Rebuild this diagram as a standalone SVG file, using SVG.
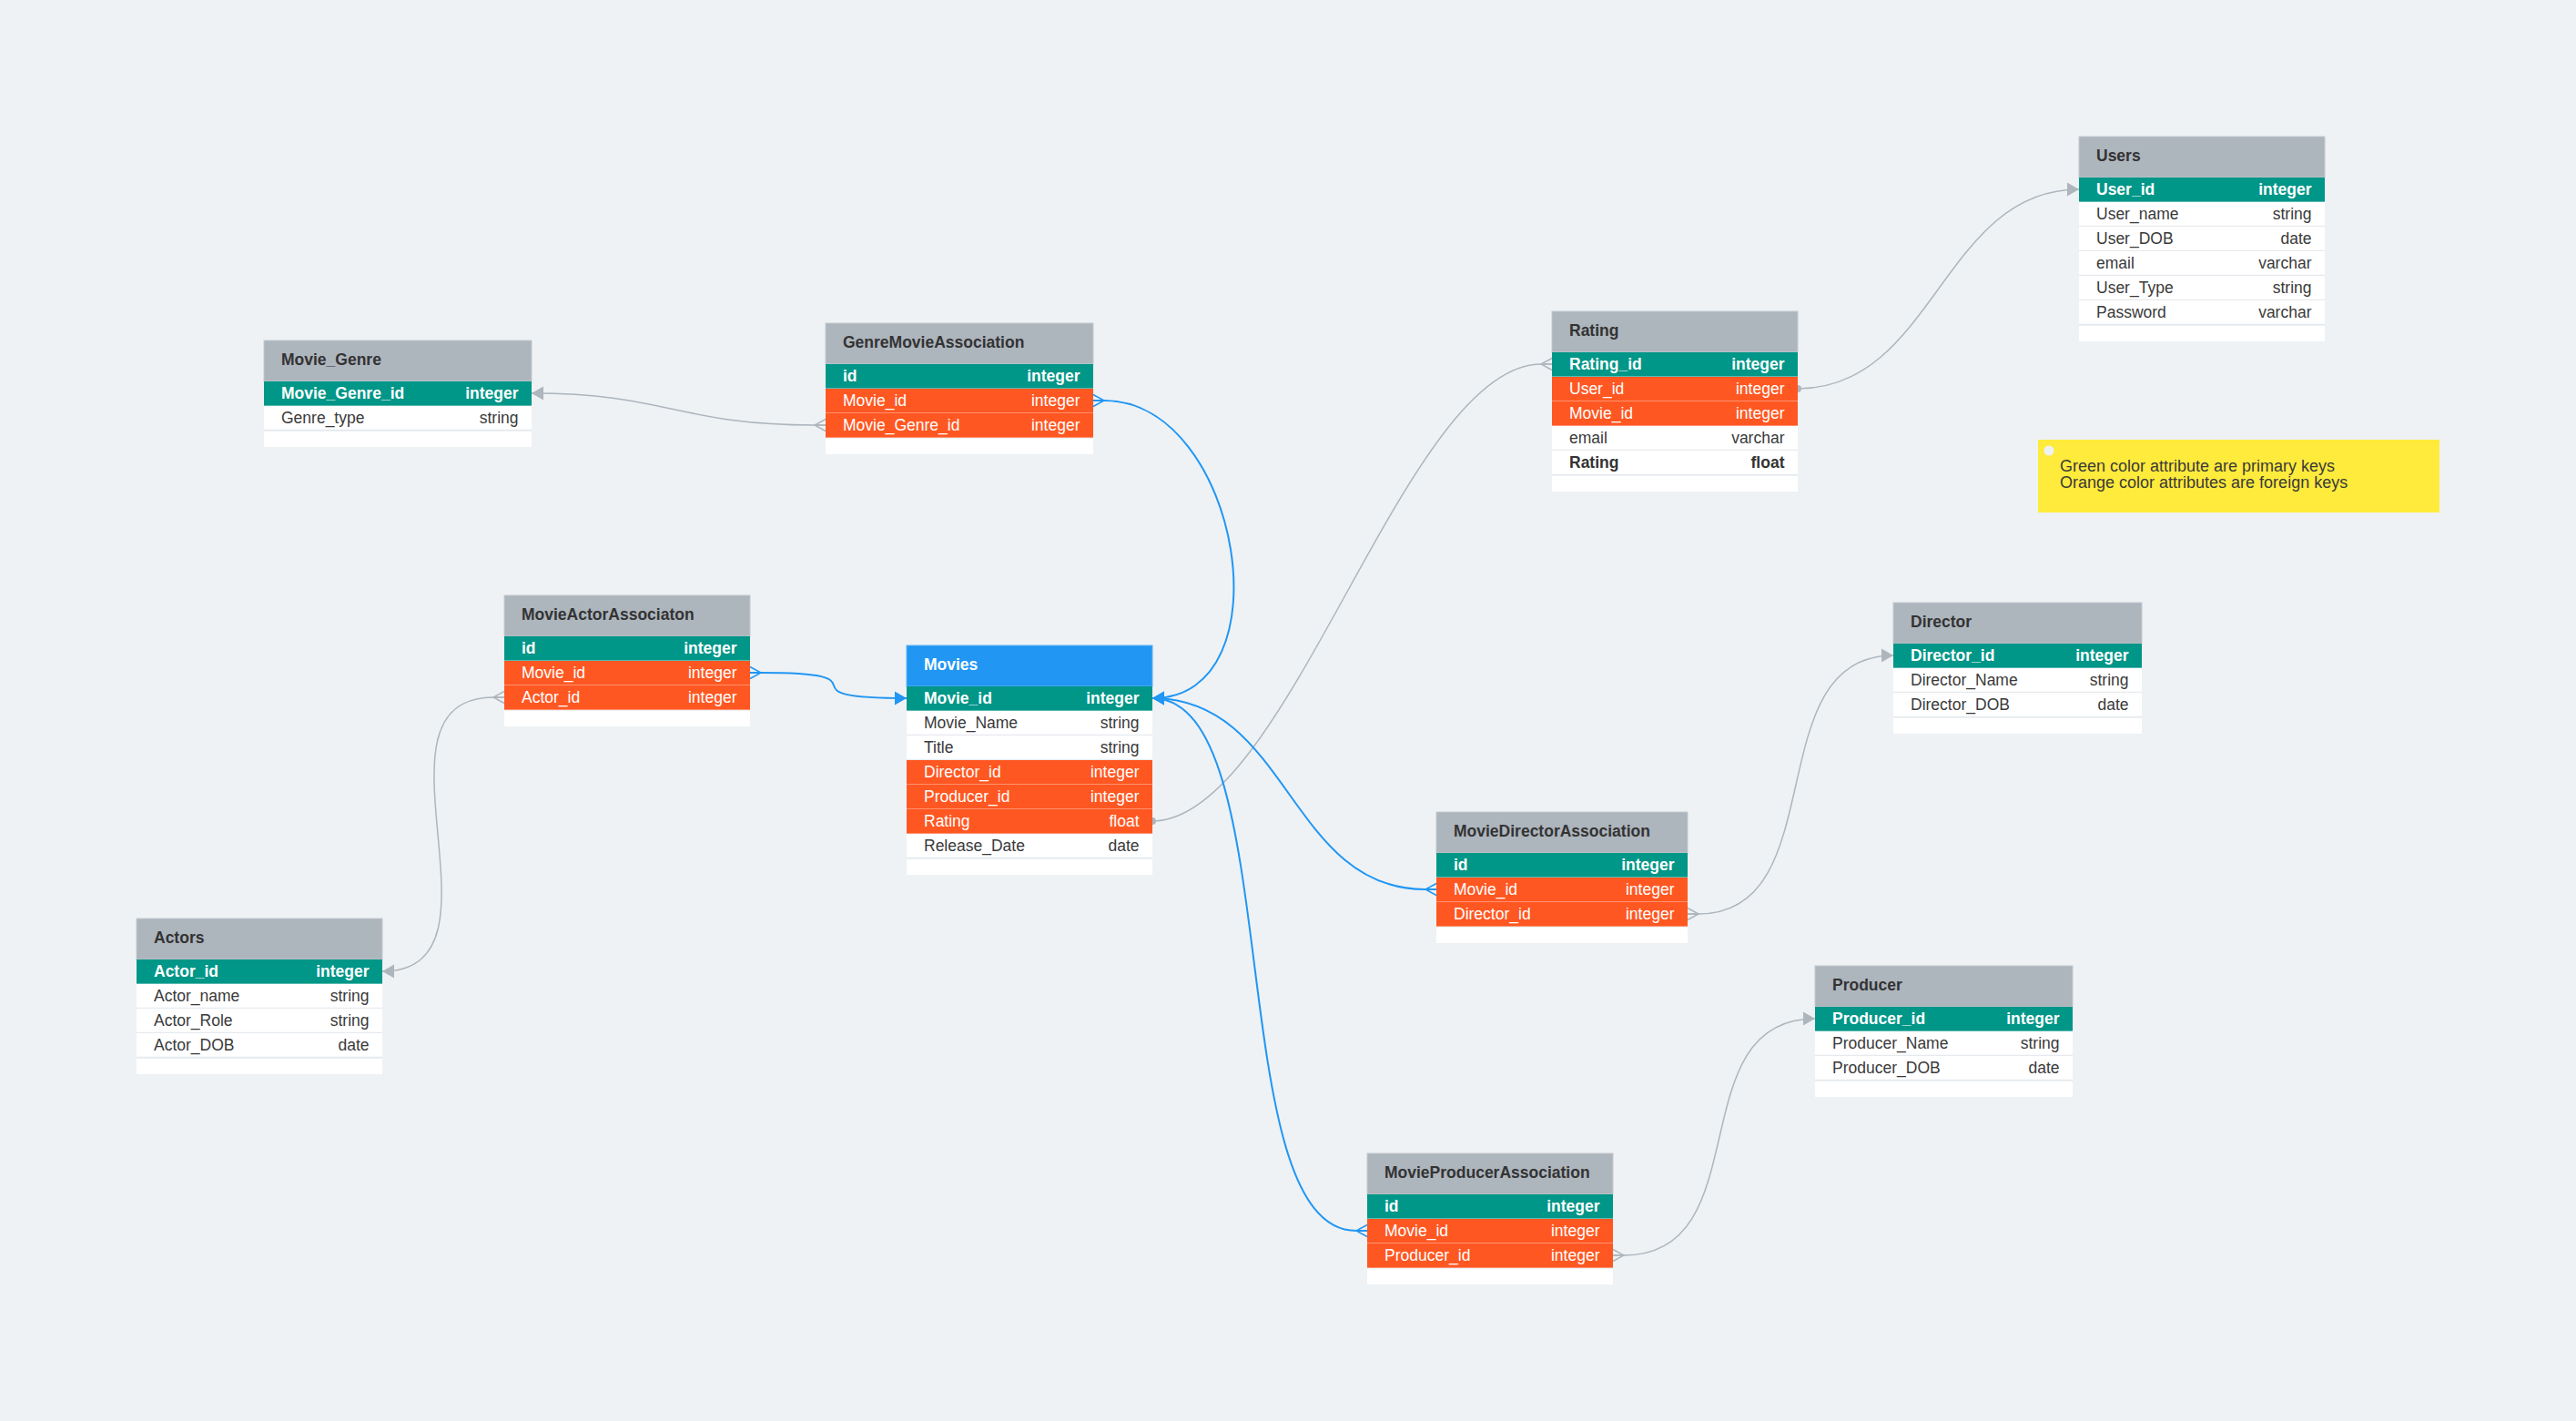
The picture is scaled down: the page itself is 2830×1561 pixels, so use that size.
<svg xmlns="http://www.w3.org/2000/svg" width="2830" height="1561" viewBox="0 0 2830 1561">
<defs>
<style>
text{font-family:"Liberation Sans",Arial,sans-serif;font-size:17.5px}
.hd{fill:#adb5bd;stroke:#c3c9cf;stroke-width:1}
.hdb{fill:#2196f3;stroke:#5fb3f5;stroke-width:1}
.ht{font-weight:bold;fill:#333}
.htw{font-weight:bold;fill:#fff}
.pk{fill:#009688}
.fk{fill:#ff5722}
.nr{fill:#fff}
.ft{fill:#fff}
.sc{stroke:#fff;stroke-opacity:.35;stroke-width:1}
.sw{stroke:#e6eaee;stroke-width:1.5}
.w{fill:#fff}
.wb{fill:#fff;font-weight:bold}
.d{fill:#3a3a3a}
.db{fill:#333;font-weight:bold}
.e{text-anchor:end}
.cg{fill:none;stroke:#adb5bd;stroke-width:1.5}
.cb{fill:none;stroke:#2196f3;stroke-width:2}
.note{font-size:18px;fill:#3a3a3a}
</style>
<marker id="arG" markerUnits="userSpaceOnUse" viewBox="-14 -8 15 16" markerWidth="15" markerHeight="16" refX="0" refY="0" orient="auto" overflow="visible"><path d="M0,0 L-13,-7.5 L-13,7.5 Z" fill="#adb5bd"/></marker>
<marker id="arB" markerUnits="userSpaceOnUse" viewBox="-14 -8 15 16" markerWidth="15" markerHeight="16" refX="0" refY="0" orient="auto" overflow="visible"><path d="M0,0 L-13,-7.5 L-13,7.5 Z" fill="#2196f3"/></marker>
<marker id="cfG" markerUnits="userSpaceOnUse" viewBox="-1 -8 14 16" markerWidth="14" markerHeight="16" refX="0" refY="0" orient="auto" overflow="visible"><path d="M0,-6.5 L12,0 L0,6.5 M0,0 L12,0" fill="none" stroke="#adb5bd" stroke-width="1.5"/></marker>
<marker id="cfB" markerUnits="userSpaceOnUse" viewBox="-1 -8 14 16" markerWidth="14" markerHeight="16" refX="0" refY="0" orient="auto" overflow="visible"><path d="M0,-6.5 L12,0 L0,6.5 M0,0 L12,0" fill="none" stroke="#2196f3" stroke-width="1.5"/></marker>
<marker id="dotG" markerUnits="userSpaceOnUse" viewBox="-5 -5 10 10" markerWidth="10" markerHeight="10" refX="0" refY="0" overflow="visible"><circle cx="0" cy="0" r="4" fill="#adb5bd"/></marker>
</defs>
<rect x="0" y="0" width="2830" height="1561" fill="#eef2f5"/>

<g id="connectors">
<path class="cg" d="M907 467 L895 467 C745 467 734 432 584 432" marker-start="url(#cfG)" marker-end="url(#arG)"/>
<path class="cb" d="M1201 440 L1213 440 C1363 440 1416 767 1266 767" marker-start="url(#cfB)" marker-end="url(#arB)"/>
<path class="cb" d="M824 739 L836 739 C986 739 846 767 996 767" marker-start="url(#cfB)" marker-end="url(#arB)"/>
<path class="cg" d="M554 766 L542 766 C392 766 570 1067 420 1067" marker-start="url(#cfG)" marker-end="url(#arG)"/>
<path class="cg" d="M1705 400 L1693 400 C1543 400 1416 902 1266 902" marker-start="url(#cfG)" marker-end="url(#dotG)"/>
<path class="cg" d="M1975 427 C2125 427 2134 208 2284 208" marker-start="url(#dotG)" marker-end="url(#arG)"/>
<path class="cb" d="M1578 977 L1566 977 C1416 977 1416 767 1266 767" marker-start="url(#cfB)" marker-end="url(#arB)"/>
<path class="cb" d="M1502 1352 L1490 1352 C1340 1352 1416 767 1266 767" marker-start="url(#cfB)" marker-end="url(#arB)"/>
<path class="cg" d="M1854 1004 L1866 1004 C2016 1004 1930 720 2080 720" marker-start="url(#cfG)" marker-end="url(#arG)"/>
<path class="cg" d="M1772 1379 L1784 1379 C1934 1379 1844 1119 1994 1119" marker-start="url(#cfG)" marker-end="url(#arG)"/>
</g>

<g id="movie-genre">
<rect class="hd" x="290" y="374" width="294" height="45"/>
<text class="ht" x="309" y="401">Movie_Genre</text>
<rect class="pk" x="290" y="419" width="294" height="27"/><line class="sc" x1="290" y1="445.5" x2="584" y2="445.5"/>
<text class="wb" x="309" y="437.5">Movie_Genre_id</text><text class="wb e" x="569.5" y="437.5">integer</text>
<rect class="nr" x="290" y="446" width="294" height="27"/><line class="sw" x1="290" y1="472.5" x2="584" y2="472.5"/>
<text class="d" x="309" y="464.5">Genre_type</text><text class="d e" x="569.5" y="464.5">string</text>
<rect class="ft" x="290" y="474" width="294" height="17"/>
</g>

<g id="genre-movie-association">
<rect class="hd" x="907" y="355" width="294" height="45"/>
<text class="ht" x="926" y="382">GenreMovieAssociation</text>
<rect class="pk" x="907" y="400" width="294" height="27"/><line class="sc" x1="907" y1="426.5" x2="1201" y2="426.5"/>
<text class="wb" x="926" y="418.5">id</text><text class="wb e" x="1186.5" y="418.5">integer</text>
<rect class="fk" x="907" y="427" width="294" height="27"/><line class="sc" x1="907" y1="453.5" x2="1201" y2="453.5"/>
<text class="w" x="926" y="445.5">Movie_id</text><text class="w e" x="1186.5" y="445.5">integer</text>
<rect class="fk" x="907" y="454" width="294" height="27"/><line class="sc" x1="907" y1="480.5" x2="1201" y2="480.5"/>
<text class="w" x="926" y="472.5">Movie_Genre_id</text><text class="w e" x="1186.5" y="472.5">integer</text>
<rect class="ft" x="907" y="482" width="294" height="17"/>
</g>

<g id="movie-actor-association">
<rect class="hd" x="554" y="654" width="270" height="45"/>
<text class="ht" x="573" y="681">MovieActorAssociaton</text>
<rect class="pk" x="554" y="699" width="270" height="27"/><line class="sc" x1="554" y1="725.5" x2="824" y2="725.5"/>
<text class="wb" x="573" y="717.5">id</text><text class="wb e" x="809.5" y="717.5">integer</text>
<rect class="fk" x="554" y="726" width="270" height="27"/><line class="sc" x1="554" y1="752.5" x2="824" y2="752.5"/>
<text class="w" x="573" y="744.5">Movie_id</text><text class="w e" x="809.5" y="744.5">integer</text>
<rect class="fk" x="554" y="753" width="270" height="27"/><line class="sc" x1="554" y1="779.5" x2="824" y2="779.5"/>
<text class="w" x="573" y="771.5">Actor_id</text><text class="w e" x="809.5" y="771.5">integer</text>
<rect class="ft" x="554" y="781" width="270" height="17"/>
</g>

<g id="movies">
<rect class="hdb" x="996" y="709" width="270" height="45"/>
<text class="htw" x="1015" y="736">Movies</text>
<rect class="pk" x="996" y="754" width="270" height="27"/><line class="sc" x1="996" y1="780.5" x2="1266" y2="780.5"/>
<text class="wb" x="1015" y="772.5">Movie_id</text><text class="wb e" x="1251.5" y="772.5">integer</text>
<rect class="nr" x="996" y="781" width="270" height="27"/><line class="sw" x1="996" y1="807.5" x2="1266" y2="807.5"/>
<text class="d" x="1015" y="799.5">Movie_Name</text><text class="d e" x="1251.5" y="799.5">string</text>
<rect class="nr" x="996" y="808" width="270" height="27"/><line class="sw" x1="996" y1="834.5" x2="1266" y2="834.5"/>
<text class="d" x="1015" y="826.5">Title</text><text class="d e" x="1251.5" y="826.5">string</text>
<rect class="fk" x="996" y="835" width="270" height="27"/><line class="sc" x1="996" y1="861.5" x2="1266" y2="861.5"/>
<text class="w" x="1015" y="853.5">Director_id</text><text class="w e" x="1251.5" y="853.5">integer</text>
<rect class="fk" x="996" y="862" width="270" height="27"/><line class="sc" x1="996" y1="888.5" x2="1266" y2="888.5"/>
<text class="w" x="1015" y="880.5">Producer_id</text><text class="w e" x="1251.5" y="880.5">integer</text>
<rect class="fk" x="996" y="889" width="270" height="27"/><line class="sc" x1="996" y1="915.5" x2="1266" y2="915.5"/>
<text class="w" x="1015" y="907.5">Rating</text><text class="w e" x="1251.5" y="907.5">float</text>
<rect class="nr" x="996" y="916" width="270" height="27"/><line class="sw" x1="996" y1="942.5" x2="1266" y2="942.5"/>
<text class="d" x="1015" y="934.5">Release_Date</text><text class="d e" x="1251.5" y="934.5">date</text>
<rect class="ft" x="996" y="944" width="270" height="17"/>
</g>

<g id="actors">
<rect class="hd" x="150" y="1009" width="270" height="45"/>
<text class="ht" x="169" y="1036">Actors</text>
<rect class="pk" x="150" y="1054" width="270" height="27"/><line class="sc" x1="150" y1="1080.5" x2="420" y2="1080.5"/>
<text class="wb" x="169" y="1072.5">Actor_id</text><text class="wb e" x="405.5" y="1072.5">integer</text>
<rect class="nr" x="150" y="1081" width="270" height="27"/><line class="sw" x1="150" y1="1107.5" x2="420" y2="1107.5"/>
<text class="d" x="169" y="1099.5">Actor_name</text><text class="d e" x="405.5" y="1099.5">string</text>
<rect class="nr" x="150" y="1108" width="270" height="27"/><line class="sw" x1="150" y1="1134.5" x2="420" y2="1134.5"/>
<text class="d" x="169" y="1126.5">Actor_Role</text><text class="d e" x="405.5" y="1126.5">string</text>
<rect class="nr" x="150" y="1135" width="270" height="27"/><line class="sw" x1="150" y1="1161.5" x2="420" y2="1161.5"/>
<text class="d" x="169" y="1153.5">Actor_DOB</text><text class="d e" x="405.5" y="1153.5">date</text>
<rect class="ft" x="150" y="1163" width="270" height="17"/>
</g>

<g id="rating">
<rect class="hd" x="1705" y="342" width="270" height="45"/>
<text class="ht" x="1724" y="369">Rating</text>
<rect class="pk" x="1705" y="387" width="270" height="27"/><line class="sc" x1="1705" y1="413.5" x2="1975" y2="413.5"/>
<text class="wb" x="1724" y="405.5">Rating_id</text><text class="wb e" x="1960.5" y="405.5">integer</text>
<rect class="fk" x="1705" y="414" width="270" height="27"/><line class="sc" x1="1705" y1="440.5" x2="1975" y2="440.5"/>
<text class="w" x="1724" y="432.5">User_id</text><text class="w e" x="1960.5" y="432.5">integer</text>
<rect class="fk" x="1705" y="441" width="270" height="27"/><line class="sc" x1="1705" y1="467.5" x2="1975" y2="467.5"/>
<text class="w" x="1724" y="459.5">Movie_id</text><text class="w e" x="1960.5" y="459.5">integer</text>
<rect class="nr" x="1705" y="468" width="270" height="27"/><line class="sw" x1="1705" y1="494.5" x2="1975" y2="494.5"/>
<text class="d" x="1724" y="486.5">email</text><text class="d e" x="1960.5" y="486.5">varchar</text>
<rect class="nr" x="1705" y="495" width="270" height="27"/><line class="sw" x1="1705" y1="521.5" x2="1975" y2="521.5"/>
<text class="db" x="1724" y="513.5">Rating</text><text class="db e" x="1960.5" y="513.5">float</text>
<rect class="ft" x="1705" y="523" width="270" height="17"/>
</g>

<g id="users">
<rect class="hd" x="2284" y="150" width="270" height="45"/>
<text class="ht" x="2303" y="177">Users</text>
<rect class="pk" x="2284" y="195" width="270" height="27"/><line class="sc" x1="2284" y1="221.5" x2="2554" y2="221.5"/>
<text class="wb" x="2303" y="213.5">User_id</text><text class="wb e" x="2539.5" y="213.5">integer</text>
<rect class="nr" x="2284" y="222" width="270" height="27"/><line class="sw" x1="2284" y1="248.5" x2="2554" y2="248.5"/>
<text class="d" x="2303" y="240.5">User_name</text><text class="d e" x="2539.5" y="240.5">string</text>
<rect class="nr" x="2284" y="249" width="270" height="27"/><line class="sw" x1="2284" y1="275.5" x2="2554" y2="275.5"/>
<text class="d" x="2303" y="267.5">User_DOB</text><text class="d e" x="2539.5" y="267.5">date</text>
<rect class="nr" x="2284" y="276" width="270" height="27"/><line class="sw" x1="2284" y1="302.5" x2="2554" y2="302.5"/>
<text class="d" x="2303" y="294.5">email</text><text class="d e" x="2539.5" y="294.5">varchar</text>
<rect class="nr" x="2284" y="303" width="270" height="27"/><line class="sw" x1="2284" y1="329.5" x2="2554" y2="329.5"/>
<text class="d" x="2303" y="321.5">User_Type</text><text class="d e" x="2539.5" y="321.5">string</text>
<rect class="nr" x="2284" y="330" width="270" height="27"/><line class="sw" x1="2284" y1="356.5" x2="2554" y2="356.5"/>
<text class="d" x="2303" y="348.5">Password</text><text class="d e" x="2539.5" y="348.5">varchar</text>
<rect class="ft" x="2284" y="358" width="270" height="17"/>
</g>

<g id="note">
<rect x="2239" y="483" width="441" height="80" fill="#ffeb3b"/>
<circle cx="2251" cy="495" r="5.5" fill="#eef2f5"/>
<text class="note" x="2263" y="518">Green color attribute are primary keys</text>
<text class="note" x="2263" y="536">Orange color attributes are foreign keys</text>
</g>

<g id="director">
<rect class="hd" x="2080" y="662" width="273" height="45"/>
<text class="ht" x="2099" y="689">Director</text>
<rect class="pk" x="2080" y="707" width="273" height="27"/><line class="sc" x1="2080" y1="733.5" x2="2353" y2="733.5"/>
<text class="wb" x="2099" y="725.5">Director_id</text><text class="wb e" x="2338.5" y="725.5">integer</text>
<rect class="nr" x="2080" y="734" width="273" height="27"/><line class="sw" x1="2080" y1="760.5" x2="2353" y2="760.5"/>
<text class="d" x="2099" y="752.5">Director_Name</text><text class="d e" x="2338.5" y="752.5">string</text>
<rect class="nr" x="2080" y="761" width="273" height="27"/><line class="sw" x1="2080" y1="787.5" x2="2353" y2="787.5"/>
<text class="d" x="2099" y="779.5">Director_DOB</text><text class="d e" x="2338.5" y="779.5">date</text>
<rect class="ft" x="2080" y="789" width="273" height="17"/>
</g>

<g id="movie-director-association">
<rect class="hd" x="1578" y="892" width="276" height="45"/>
<text class="ht" x="1597" y="919">MovieDirectorAssociation</text>
<rect class="pk" x="1578" y="937" width="276" height="27"/><line class="sc" x1="1578" y1="963.5" x2="1854" y2="963.5"/>
<text class="wb" x="1597" y="955.5">id</text><text class="wb e" x="1839.5" y="955.5">integer</text>
<rect class="fk" x="1578" y="964" width="276" height="27"/><line class="sc" x1="1578" y1="990.5" x2="1854" y2="990.5"/>
<text class="w" x="1597" y="982.5">Movie_id</text><text class="w e" x="1839.5" y="982.5">integer</text>
<rect class="fk" x="1578" y="991" width="276" height="27"/><line class="sc" x1="1578" y1="1017.5" x2="1854" y2="1017.5"/>
<text class="w" x="1597" y="1009.5">Director_id</text><text class="w e" x="1839.5" y="1009.5">integer</text>
<rect class="ft" x="1578" y="1019" width="276" height="17"/>
</g>

<g id="producer">
<rect class="hd" x="1994" y="1061" width="283" height="45"/>
<text class="ht" x="2013" y="1088">Producer</text>
<rect class="pk" x="1994" y="1106" width="283" height="27"/><line class="sc" x1="1994" y1="1132.5" x2="2277" y2="1132.5"/>
<text class="wb" x="2013" y="1124.5">Producer_id</text><text class="wb e" x="2262.5" y="1124.5">integer</text>
<rect class="nr" x="1994" y="1133" width="283" height="27"/><line class="sw" x1="1994" y1="1159.5" x2="2277" y2="1159.5"/>
<text class="d" x="2013" y="1151.5">Producer_Name</text><text class="d e" x="2262.5" y="1151.5">string</text>
<rect class="nr" x="1994" y="1160" width="283" height="27"/><line class="sw" x1="1994" y1="1186.5" x2="2277" y2="1186.5"/>
<text class="d" x="2013" y="1178.5">Producer_DOB</text><text class="d e" x="2262.5" y="1178.5">date</text>
<rect class="ft" x="1994" y="1188" width="283" height="17"/>
</g>

<g id="movie-producer-association">
<rect class="hd" x="1502" y="1267" width="270" height="45"/>
<text class="ht" x="1521" y="1294">MovieProducerAssociation</text>
<rect class="pk" x="1502" y="1312" width="270" height="27"/><line class="sc" x1="1502" y1="1338.5" x2="1772" y2="1338.5"/>
<text class="wb" x="1521" y="1330.5">id</text><text class="wb e" x="1757.5" y="1330.5">integer</text>
<rect class="fk" x="1502" y="1339" width="270" height="27"/><line class="sc" x1="1502" y1="1365.5" x2="1772" y2="1365.5"/>
<text class="w" x="1521" y="1357.5">Movie_id</text><text class="w e" x="1757.5" y="1357.5">integer</text>
<rect class="fk" x="1502" y="1366" width="270" height="27"/><line class="sc" x1="1502" y1="1392.5" x2="1772" y2="1392.5"/>
<text class="w" x="1521" y="1384.5">Producer_id</text><text class="w e" x="1757.5" y="1384.5">integer</text>
<rect class="ft" x="1502" y="1394" width="270" height="17"/>
</g>
</svg>
